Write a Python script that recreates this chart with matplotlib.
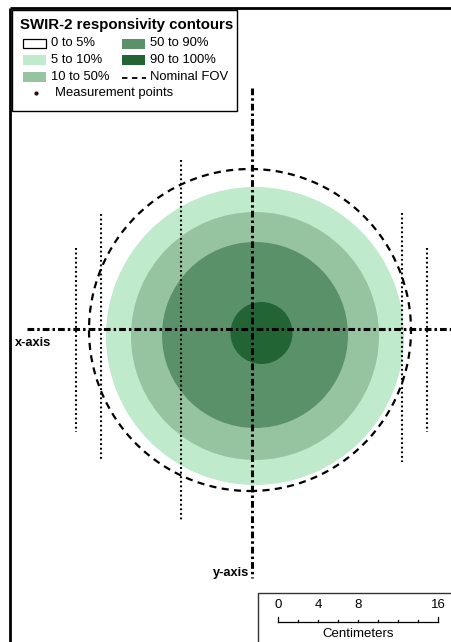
import matplotlib
matplotlib.use("Agg")
import matplotlib.pyplot as plt
from matplotlib.patches import Circle, Rectangle

plt.rcParams['font.family'] = ['Liberation Sans', 'DejaVu Sans']

# Responsivity contour bands (cm), outermost first
band_labels = ["5 to 10%", "10 to 50%", "50 to 90%", "90 to 100%"]
band_colors = ["#bfeacb", "#96c4a0", "#5a9169", "#226434"]
band_cx = [0.3, 0.3, 0.3, 0.95]
band_cy = [-0.7, -0.7, -0.6, -0.4]
band_r = [14.9, 12.4, 9.3, 3.1]

# Nominal field of view (cm)
fov_cx, fov_cy, fov_r = -0.2, -0.1, 16.1

# Measurement traverses: column x position and vertical extent (cm)
col_x = [-17.6, -15.1, -7.1, 15.0, 17.5]
col_top = [8.1, 11.5, 16.9, 11.6, 8.1]
col_bot = [-10.3, -13.2, -19.3, -13.3, -10.3]

# Reference axes extents (cm)
xaxis_span = [-22.5, 20.5]
yaxis_span = [24.1, -24.9]

# Scale bar
scale_ticks = [0, 4, 8, 16]
scale_minor = [0, 2, 4, 6, 8, 10, 12, 14, 16]

W, H = 452, 642
fig = plt.figure(figsize=(W / 100, H / 100), dpi=100)
ax = fig.add_axes([0, 0, 1, 1])
# 10 px per cm, origin at the axes crossing
ox, oy = 252, 329
ax.set_xlim(-ox / 10, (W - ox) / 10)
ax.set_ylim((oy - H) / 10, oy / 10)
ax.axis("off")

for cx, cy, r, c in zip(band_cx, band_cy, band_r, band_colors):
    ax.add_patch(Circle((cx, cy), r, facecolor=c, edgecolor="none", zorder=1))

ax.add_patch(Circle((fov_cx, fov_cy), fov_r, facecolor="none", edgecolor="black",
                    lw=1.6, ls=(0, (3.2, 2.4)), zorder=3))

for x, t, b in zip(col_x, col_top, col_bot):
    ax.plot([x, x], [t, b], color="black", lw=1.5, ls=(0, (0.9, 1.3)), zorder=4)

# x and y reference axes
ax.plot(xaxis_span, [0, 0], color="black", lw=2.2, ls=(0, (2.2, 1.0, 0.8, 1.0)), zorder=5)
ax.plot([0, 0], yaxis_span, color="black", lw=2.2, ls=(0, (2.2, 1.0, 0.8, 1.0)), zorder=5)
ax.text(-23.7, -1.4, "x-axis", fontsize=9.2, fontweight="bold", ha="left", va="center", zorder=6)
ax.text(-0.3, -24.4, "y-axis", fontsize=9.2, fontweight="bold", ha="right", va="center", zorder=6)

# Scale bar
sx0, sy0 = 2.6, -29.3
ax.plot([sx0 + scale_minor[0], sx0 + scale_minor[-1]], [sy0, sy0], color="black", lw=0.9, zorder=6)
for m in scale_minor:
    h = 0.5 if m in (scale_minor[0], scale_minor[-1]) else 0.25
    ax.plot([sx0 + m, sx0 + m], [sy0, sy0 + h], color="black", lw=0.9, zorder=6)
for t in scale_ticks:
    ax.text(sx0 + t, sy0 + 1.65, str(t), fontsize=9.5, ha="center", va="center", zorder=6)
ax.text(sx0 + 8, sy0 - 1.2, "Centimeters", fontsize=9.5, ha="center", va="center", zorder=6)

# Overlay in pixel coordinates for frame and legend
ov = fig.add_axes([0, 0, 1, 1])
ov.set_xlim(0, W)
ov.set_ylim(H, 0)
ov.axis("off")
ov.patch.set_alpha(0)

ov.plot([10, 10], [8, H], color="black", lw=2, solid_capstyle="butt")
ov.plot([10, W], [8, 8], color="black", lw=2, solid_capstyle="butt")
ov.add_patch(Rectangle((258, 593), 200, 60, facecolor="none", edgecolor="#333333", lw=1))

# Legend
fs = 9.4
ov.add_patch(Rectangle((12, 10), 225, 101, facecolor="white", edgecolor="black", lw=1, zorder=7))
ov.text(20, 25, "SWIR-2 responsivity contours", fontsize=10.8, fontweight="bold",
        ha="left", va="center", zorder=8)
ov.add_patch(Rectangle((23, 39), 23, 9, facecolor="white", edgecolor="black", lw=0.9, zorder=8))
ov.text(51, 43.5, "0 to 5%", fontsize=fs, ha="left", va="center", zorder=8)
slots = [(23, 55, 51, 60), (23, 72, 51, 77.5), (122, 39, 150, 43.5), (122, 55, 150, 60)]
for (px, py, tx, ty), lab, c in zip(slots, band_labels, band_colors):
    ov.add_patch(Rectangle((px, py), 23, 10, facecolor=c, edgecolor="none", zorder=8))
    ov.text(tx, ty, lab, fontsize=fs, ha="left", va="center", zorder=8)
ov.plot([122, 146], [78, 78], color="black", lw=1.3, ls=(0, (3, 2.5)), zorder=8)
ov.text(150, 77.5, "Nominal FOV", fontsize=fs, ha="left", va="center", zorder=8)
ov.plot([36], [93], marker="o", ms=2, color="#2a0a0a", zorder=8)
ov.text(55, 93, "Measurement points", fontsize=fs, ha="left", va="center", zorder=8)

fig.savefig("out.png", dpi=100)
